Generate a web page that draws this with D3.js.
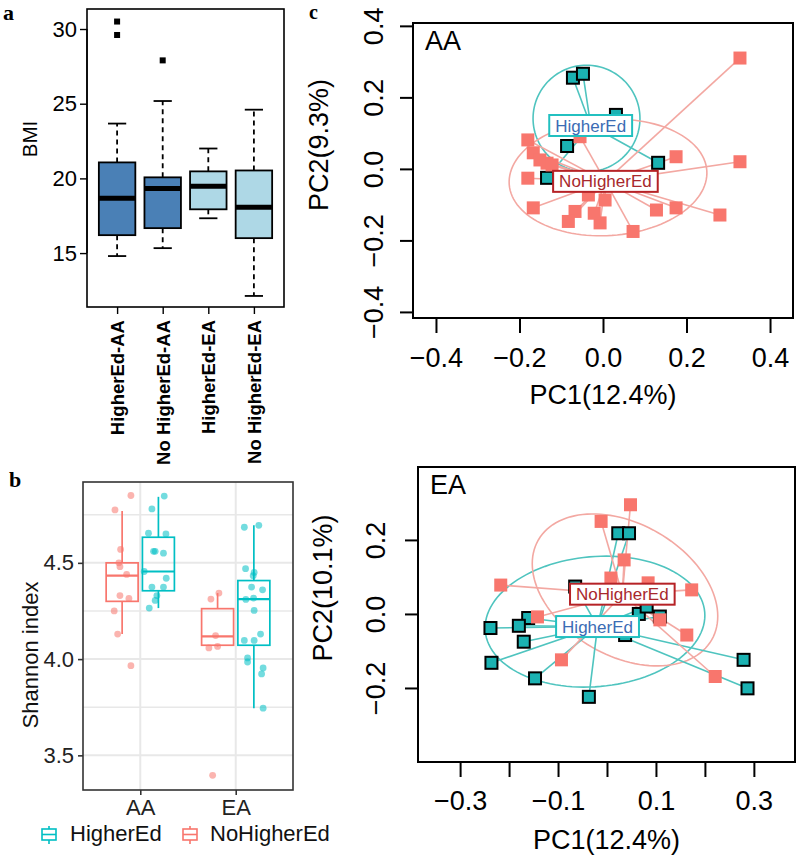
<!DOCTYPE html>
<html>
<head>
<meta charset="utf-8">
<script src="https://cdn.jsdelivr.net/npm/d3@7"></script>
<style>
  body { margin: 0; background: #fff; }
  svg { display: block; }
  text { font-family: "Liberation Sans", Arial, Helvetica, sans-serif; }
</style>
</head>
<body>
<svg width="800" height="858"></svg>
<script>
// ---------- data: panel a (BMI) ----------
const bmiGroups = ["HigherEd-AA", "No HigherEd-AA", "HigherEd-EA", "No HigherEd-EA"];
const bmiLow = [14.8, 15.33, 17.33, 12.13];
const bmiQ1 = [16.2, 16.67, 17.93, 16.0];
const bmiMedian = [18.67, 19.33, 19.47, 18.07];
const bmiQ3 = [21.07, 20.07, 20.47, 20.53];
const bmiHigh = [23.67, 25.18, 22.0, 24.6];
const bmiOutliers = [[30.5, 29.6], [27.9], [], []];
const bmiTicks = [15, 20, 25, 30];

// ---------- data: panel b (Shannon) ----------
const shGroups = ["AA", "EA"];
const shBoxGroup = ["AA", "AA", "EA", "EA"];
const shBoxSeries = ["NoHigherEd", "HigherEd", "NoHigherEd", "HigherEd"];
const shLow = [4.13, 4.265, 4.066, 3.745];
const shQ1 = [4.30, 4.355, 4.072, 4.072];
const shMedian = [4.434, 4.455, 4.118, 4.312];
const shQ3 = [4.50, 4.633, 4.262, 4.408];
const shHigh = [4.77, 4.843, 4.343, 4.695];
const shPoints = [
  [4.85, 4.775, 4.57, 4.50, 4.48, 4.44, 4.33, 4.315, 4.25, 4.13, 3.966],
  [4.847, 4.78, 4.654, 4.65, 4.56, 4.55, 4.56, 4.455, 4.42, 4.374, 4.374, 4.33, 4.305, 4.265],
  [4.343, 4.312, 4.122, 4.058, 4.066, 3.396],
  [4.685, 4.695, 4.47, 4.45, 4.433, 4.374, 4.36, 4.31, 4.317, 4.253, 4.13, 4.097, 4.097, 4.006, 3.985, 3.954, 3.923, 3.745]
];
// horizontal jitter, in category steps
const shJitter = [
  [0.092, -0.075, -0.016, -0.034, -0.023, 0.047, -0.023, 0.071, -0.083, -0.047, 0.092],
  [0.061, -0.068, -0.104, 0.079, -0.051, 0.053, -0.034, -0.149, 0.082, -0.068, 0.053, -0.016, -0.034, -0.096],
  [0.014, -0.07, -0.021, -0.091, 0.0, -0.052],
  [-0.10, 0.052, -0.087, 0.003, -0.007, -0.024, 0.091, -0.084, -0.003, 0.003, 0.07, -0.10, 0.003, -0.066, -0.066, 0.097, 0.081, 0.097]
];
const shTicks = [3.5, 4.0, 4.5];
const shMinor = [3.75, 4.25, 4.75];

// ---------- data: panel c (PCoA) ----------
const aaHigherX = [-0.072, -0.048, 0.031, -0.086, 0.132, -0.134];
const aaHigherY = [0.255, 0.266, 0.151, 0.064, 0.017, -0.025];
const aaNoHigherX = [0.328, 0.328, 0.175, 0.28, 0.175, 0.128, 0.072, -0.007, -0.021, 0.005, -0.035, -0.067, -0.083, -0.167, -0.18, -0.18, -0.167, -0.151, -0.134, -0.122, -0.055];
const aaNoHigherY = [0.31, 0.02, 0.034, -0.129, -0.109, -0.115, -0.175, -0.151, -0.124, -0.087, -0.073, -0.119, -0.147, -0.109, -0.026, 0.081, 0.045, 0.025, 0.016, 0.011, 0.09];
const eaHigherX = [0.023, 0.045, -0.065, -0.161, -0.18, -0.238, -0.17, -0.236, -0.147, -0.037, 0.065, 0.081, 0.108, 0.037, 0.279, 0.287];
const eaHigherY = [0.218, 0.218, 0.074, -0.011, -0.032, -0.038, -0.075, -0.132, -0.174, -0.224, 0.0, 0.02, -0.007, -0.057, -0.124, -0.201];
const eaNoHigherX = [0.048, -0.012, 0.035, 0.008, 0.084, 0.173, -0.217, -0.142, 0.108, 0.163, -0.093, 0.221];
const eaNoHigherY = [0.295, 0.25, 0.146, 0.097, 0.084, 0.065, 0.078, -0.008, -0.016, -0.057, -0.124, -0.169];
// ellipses: centre x, centre y, first axis (x, y), second axis (x, y)
const aaEllHigher = [-0.0395, 0.141, 0.128, 0, 0, 0.149];
const aaEllNoHigher = [0.012, -0.024, 0.2366, 0.0193, 0.0097, -0.162];
const eaEllHigher = [-0.0245, -0.0208, 0.2241, 0.0259, 0.0116, -0.175];
const eaEllNoHigher = [0.0368, 0.0649, 0.177, -0.135, -0.0675, -0.1546];
const aaTicksX = [-0.4, -0.2, 0, 0.2, 0.4];
const aaTicksY = [-0.4, -0.2, 0, 0.2, 0.4];
const eaTicksX = [-0.3, -0.2, -0.1, 0, 0.1, 0.2, 0.3];
const eaLabelsX = [-0.3, -0.1, 0.1, 0.3];
const eaTicksY = [-0.2, 0, 0.2];

const svg = d3.select("svg");
const fmt1 = d3.format(".1f");

// panel letters
[["a", 3, 20], ["b", 9, 487], ["c", 309, 19]].forEach(([t, x, y]) => {
  svg.append("text").attr("x", x).attr("y", y).text(t)
    .style("font-family", '"Liberation Serif", "Times New Roman", serif')
    .attr("font-weight", "bold").attr("font-size", t === "c" ? 20 : 22);
});

// ================= panel a =================
const gA = svg.append("g");
const xA = d3.scaleLinear().domain([0.34, 4.66]).range([87, 284]);
const yA = d3.scaleLinear().domain([11.39, 31.34]).range([307, 9]);
const boxW = xA(1.8) - xA(1);
const bmiFill = ["#4a80b6", "#4a80b6", "#aed8e6", "#aed8e6"];

bmiGroups.forEach((g, i) => {
  const cx = xA(i + 1);
  [[bmiQ3[i], bmiHigh[i]], [bmiQ1[i], bmiLow[i]]].forEach(([a, b]) => {
    gA.append("line").attr("x1", cx).attr("x2", cx)
      .attr("y1", yA(a)).attr("y2", yA(b))
      .attr("stroke", "#000").attr("stroke-width", 1.8).attr("stroke-dasharray", "5,4");
    gA.append("line").attr("x1", cx - boxW / 4).attr("x2", cx + boxW / 4)
      .attr("y1", yA(b)).attr("y2", yA(b))
      .attr("stroke", "#000").attr("stroke-width", 1.8);
  });
  gA.append("rect").attr("x", cx - boxW / 2).attr("y", yA(bmiQ3[i]))
    .attr("width", boxW).attr("height", yA(bmiQ1[i]) - yA(bmiQ3[i]))
    .attr("fill", bmiFill[i]).attr("stroke", "#000").attr("stroke-width", 1.8);
  gA.append("line").attr("x1", cx - boxW / 2).attr("x2", cx + boxW / 2)
    .attr("y1", yA(bmiMedian[i])).attr("y2", yA(bmiMedian[i]))
    .attr("stroke", "#000").attr("stroke-width", 5);
  gA.selectAll(null).data(bmiOutliers[i]).enter().append("rect")
    .attr("x", cx - 3).attr("y", d => yA(d) - 3)
    .attr("width", 6).attr("height", 6).attr("fill", "#000");
});

gA.append("rect").attr("x", 87).attr("y", 9).attr("width", 197).attr("height", 298)
  .attr("fill", "none").attr("stroke", "#000").attr("stroke-width", 1.6);

const axA = gA.append("g").attr("transform", "translate(87,0)")
  .call(d3.axisLeft(yA).tickValues(bmiTicks).tickSize(7).tickPadding(3).tickFormat(d3.format("d")));
axA.select(".domain").attr("d", `M0,${yA(15)}V${yA(30)}`).attr("stroke-width", 1.4);
axA.selectAll(".tick line").attr("stroke-width", 1.4);
axA.selectAll("text").attr("font-size", 22).attr("fill", "#000");

const axAx = gA.append("g").attr("transform", "translate(0,307)")
  .call(d3.axisBottom(xA).tickValues([1, 2, 3, 4]).tickSize(7).tickFormat((d, i) => bmiGroups[i]));
axAx.select(".domain").remove();
axAx.selectAll(".tick line").attr("stroke-width", 1.4);
axAx.selectAll("text")
  .attr("font-size", 18.5).attr("font-weight", "bold").attr("fill", "#000")
  .attr("text-anchor", "end").attr("x", 0).attr("y", 0).attr("dy", "0.36em")
  .attr("transform", "translate(0,13) rotate(-90)");

gA.append("text").attr("transform", "translate(37,139) rotate(-90)")
  .attr("text-anchor", "middle").style("font-size", "20.5px").text("BMI");

// ================= panel b =================
const gB = svg.append("g");
const xB = d3.scalePoint().domain(shGroups).range([83, 293]).padding(0.6);
const yB = d3.scaleLinear().domain([3.32, 4.92]).range([790, 482]);
const step = xB.step();
const dodge = { NoHigherEd: -0.19, HigherEd: 0.19 };
const shColor = { NoHigherEd: "#f8766d", HigherEd: "#00bfc4" };
const bW = 0.335 * step;

gB.append("rect").attr("x", 83).attr("y", 482).attr("width", 210).attr("height", 308).attr("fill", "#fff");
shMinor.concat(shTicks).forEach(v => {
  gB.append("line").attr("x1", 83).attr("x2", 293).attr("y1", yB(v)).attr("y2", yB(v))
    .attr("stroke", "#e8e8e8").attr("stroke-width", shTicks.includes(v) ? 2 : 1.6);
});
shGroups.forEach(g => {
  gB.append("line").attr("x1", xB(g)).attr("x2", xB(g)).attr("y1", 482).attr("y2", 790)
    .attr("stroke", "#e8e8e8").attr("stroke-width", 2);
});

shBoxGroup.forEach((g, i) => {
  const s = shBoxSeries[i];
  const cx = xB(g) + dodge[s] * step;
  const col = shColor[s];
  gB.append("line").attr("x1", cx).attr("x2", cx).attr("y1", yB(shHigh[i])).attr("y2", yB(shQ3[i]))
    .attr("stroke", col).attr("stroke-width", 1.7);
  gB.append("line").attr("x1", cx).attr("x2", cx).attr("y1", yB(shQ1[i])).attr("y2", yB(shLow[i]))
    .attr("stroke", col).attr("stroke-width", 1.7);
  gB.append("rect").attr("x", cx - bW / 2).attr("y", yB(shQ3[i]))
    .attr("width", bW).attr("height", yB(shQ1[i]) - yB(shQ3[i]))
    .attr("fill", "none").attr("stroke", col).attr("stroke-width", 1.7);
  gB.append("line").attr("x1", cx - bW / 2).attr("x2", cx + bW / 2)
    .attr("y1", yB(shMedian[i])).attr("y2", yB(shMedian[i]))
    .attr("stroke", col).attr("stroke-width", 2.2);
  gB.selectAll(null).data(shPoints[i]).enter().append("circle")
    .attr("cx", (d, j) => cx + shJitter[i][j] * step)
    .attr("cy", d => yB(d)).attr("r", 3.4)
    .attr("fill", col).attr("fill-opacity", 0.55);
});

gB.append("rect").attr("x", 83).attr("y", 482).attr("width", 210).attr("height", 308)
  .attr("fill", "none").attr("stroke", "#333").attr("stroke-width", 1.6);

const axB = gB.append("g").attr("transform", "translate(83,0)")
  .call(d3.axisLeft(yB).tickValues(shTicks).tickSize(5).tickPadding(4).tickFormat(fmt1));
axB.select(".domain").remove();
axB.selectAll(".tick line").attr("stroke", "#333").attr("stroke-width", 1.6);
axB.selectAll("text").attr("font-size", 22).attr("fill", "#222");

const axBx = gB.append("g").attr("transform", "translate(0,790)")
  .call(d3.axisBottom(xB).tickSize(5).tickPadding(4));
axBx.select(".domain").remove();
axBx.selectAll(".tick line").attr("stroke", "#333").attr("stroke-width", 1.6);
axBx.selectAll("text").attr("font-size", 22).attr("fill", "#222").attr("dy", 0).attr("y", 25);

gB.append("text").attr("transform", "translate(38,655) rotate(-90)")
  .attr("text-anchor", "middle").attr("font-size", 22).attr("fill", "#111").text("Shannon index");

// legend
[["HigherEd", 49, 70], ["NoHigherEd", 190, 210]].forEach(([s, kx, tx]) => {
  const col = shColor[s];
  const lg = gB.append("g");
  lg.append("line").attr("x1", kx).attr("x2", kx).attr("y1", 826).attr("y2", 844)
    .attr("stroke", col).attr("stroke-width", 1.6);
  lg.append("rect").attr("x", kx - 7).attr("y", 829).attr("width", 14).attr("height", 11)
    .attr("fill", "#fff").attr("stroke", col).attr("stroke-width", 1.6);
  lg.append("line").attr("x1", kx - 7).attr("x2", kx + 7).attr("y1", 834.5).attr("y2", 834.5)
    .attr("stroke", col).attr("stroke-width", 1.6);
  lg.append("text").attr("x", tx).attr("y", 841).attr("font-size", 22).attr("fill", "#111").text(s);
});

// ================= panel c =================
function pcoaPanel(o) {
  const g = svg.append("g");
  const x = d3.scaleLinear().domain(o.xDom).range([o.left, o.right]);
  const y = d3.scaleLinear().domain(o.yDom).range([o.bottom, o.top]);
  const groups = [
    { name: "HigherEd", xs: o.hx, ys: o.hy, ell: o.hEll, line: "#4fc4bf", lab: "#3b6cb4", box: "#22c0c0" },
    { name: "NoHigherEd", xs: o.nx, ys: o.ny, ell: o.nEll, line: "#f3a8a2", lab: "#a8282c", box: "#b62226" }
  ];
  groups.forEach(gr => {
    gr.pts = gr.xs.map((v, i) => [v, gr.ys[i]]);
    gr.cx = d3.mean(gr.xs);
    gr.cy = d3.mean(gr.ys);
  });

  // ellipses
  const line = d3.line().curve(d3.curveLinearClosed);
  groups.forEach(gr => {
    const e = gr.ell;
    const ring = d3.range(0, 2 * Math.PI, Math.PI / 60).map(t => [
      x(e[0] + e[2] * Math.cos(t) + e[4] * Math.sin(t)),
      y(e[1] + e[3] * Math.cos(t) + e[5] * Math.sin(t))
    ]);
    g.append("path").attr("d", line(ring)).attr("fill", "none")
      .attr("stroke", gr.line).attr("stroke-width", 1.6);
  });
  // spiders
  groups.forEach(gr => {
    g.selectAll(null).data(gr.pts).enter().append("line")
      .attr("x1", x(gr.cx)).attr("y1", y(gr.cy))
      .attr("x2", d => x(d[0])).attr("y2", d => y(d[1]))
      .attr("stroke", gr.line).attr("stroke-width", 1.6);
  });
  // points
  g.selectAll(null).data(groups[0].pts).enter().append("rect")
    .attr("x", d => x(d[0]) - 6).attr("y", d => y(d[1]) - 6)
    .attr("width", 12).attr("height", 12)
    .attr("fill", "#1bb2b2").attr("stroke", "#000").attr("stroke-width", 2);
  g.selectAll(null).data(groups[1].pts).enter().append("rect")
    .attr("x", d => x(d[0]) - 6.5).attr("y", d => y(d[1]) - 6.5)
    .attr("width", 13).attr("height", 13).attr("fill", "#f8766d");
  // labels at centroids
  groups.forEach(gr => {
    const t = g.append("text").attr("x", x(gr.cx)).attr("y", y(gr.cy)).attr("dy", "0.36em")
      .attr("text-anchor", "middle").attr("font-size", 17).attr("fill", gr.lab).text(gr.name);
    const bb = t.node().getBBox();
    g.insert("rect", () => t.node())
      .attr("x", x(gr.cx) - bb.width / 2 - 6).attr("y", y(gr.cy) - 10.5)
      .attr("width", bb.width + 12).attr("height", 21)
      .attr("fill", "#fff").attr("stroke", gr.box).attr("stroke-width", 2);
  });

  g.append("rect").attr("x", o.left).attr("y", o.top)
    .attr("width", o.right - o.left).attr("height", o.bottom - o.top)
    .attr("fill", "none").attr("stroke", "#000").attr("stroke-width", 2);

  const ax = g.append("g").attr("transform", `translate(0,${o.bottom})`)
    .call(d3.axisBottom(x).tickValues(o.xTicks).tickSize(15)
      .tickFormat(d => o.xLabels.some(v => Math.abs(v - d) < 1e-9) ? fmt1(d) : ""));
  ax.select(".domain").remove();
  ax.selectAll(".tick line").attr("stroke-width", 2);
  ax.selectAll("text").attr("font-size", 27).attr("fill", "#000").attr("dy", 0).attr("y", o.xLabY);

  const ay = g.append("g").attr("transform", `translate(${o.left},0)`)
    .call(d3.axisLeft(y).tickValues(o.yTicks).tickSize(13).tickFormat(fmt1));
  ay.select(".domain").remove();
  ay.selectAll(".tick line").attr("stroke-width", 2);
  ay.selectAll("text").attr("font-size", 27).attr("fill", "#000")
    .attr("x", 0).attr("dy", 0).attr("text-anchor", "middle")
    .attr("transform", `translate(${o.yLabX},0) rotate(-90)`);

  g.append("text").attr("x", o.left + 12).attr("y", o.top + 27)
    .attr("font-size", 27).text(o.tag);
  g.append("text").attr("x", (o.left + o.right) / 2).attr("y", o.xTitleY)
    .attr("text-anchor", "middle").attr("font-size", 27).text("PC1(12.4%)");
  g.append("text").attr("transform", `translate(${o.yTitleX},${o.yTitleMid}) rotate(-90)`)
    .attr("text-anchor", "middle").attr("font-size", 27).text(o.yTitle);
}

pcoaPanel({
  tag: "AA", left: 413, right: 793, top: 23, bottom: 318,
  xDom: [-0.455, 0.455], yDom: [-0.417, 0.408],
  hx: aaHigherX, hy: aaHigherY, nx: aaNoHigherX, ny: aaNoHigherY,
  hEll: aaEllHigher, nEll: aaEllNoHigher,
  xTicks: aaTicksX, xLabels: aaTicksX, yTicks: aaTicksY,
  xLabY: 49, yLabX: -30, xTitleY: 404, yTitle: "PC2(9.3%)", yTitleX: 328, yTitleMid: 145
});

pcoaPanel({
  tag: "EA", left: 418, right: 795, top: 467, bottom: 762,
  xDom: [-0.386, 0.384], yDom: [-0.4, 0.397],
  hx: eaHigherX, hy: eaHigherY, nx: eaNoHigherX, ny: eaNoHigherY,
  hEll: eaEllHigher, nEll: eaEllNoHigher,
  xTicks: eaTicksX, xLabels: eaLabelsX, yTicks: eaTicksY,
  xLabY: 48, yLabX: -33, xTitleY: 849, yTitle: "PC2(10.1%)", yTitleX: 332, yTitleMid: 588
});
</script>
</body>
</html>
